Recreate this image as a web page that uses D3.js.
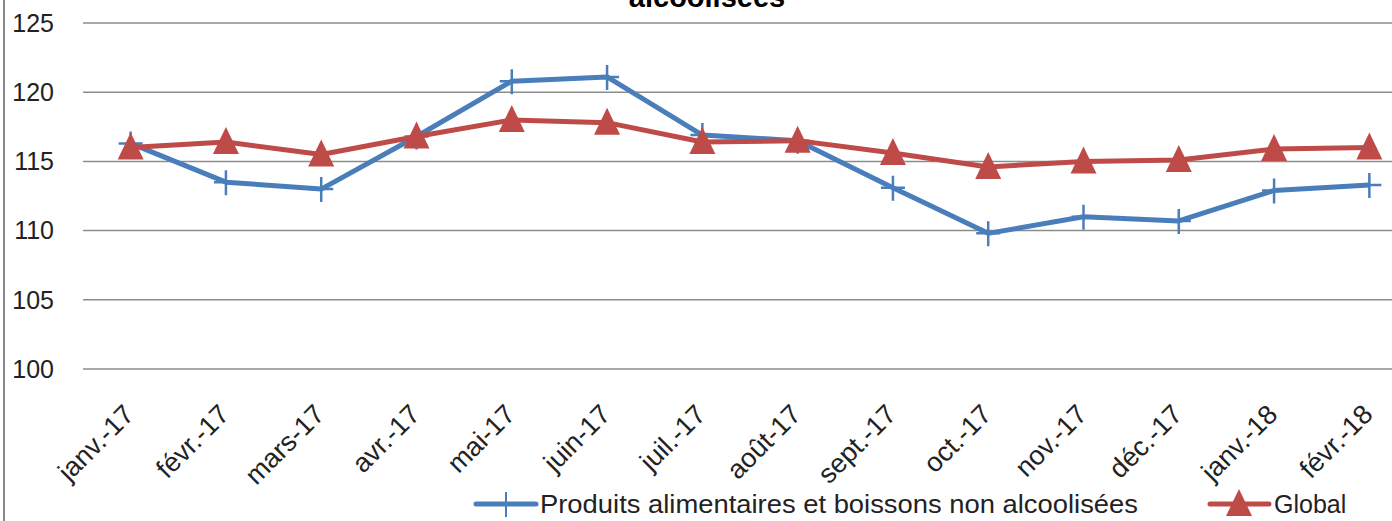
<!DOCTYPE html>
<html>
<head>
<meta charset="utf-8">
<script src="https://cdn.jsdelivr.net/npm/d3@7"></script>
<style>
  body { margin: 0; background: #fff; }
  svg { display: block; font-family: "Liberation Sans", Arial, sans-serif; }
</style>
</head>
<body>
<svg id="chart" width="1392" height="521"></svg>
<script>
var months = ["janv.-17", "févr.-17", "mars-17", "avr.-17", "mai-17", "juin-17", "juil.-17",
              "août-17", "sept.-17", "oct.-17", "nov.-17", "déc.-17", "janv.-18", "févr.-18"];
var alimentaire = [116.3, 113.5, 113.0, 116.8, 120.8, 121.1, 116.9, 116.5, 113.1, 109.8, 111.0, 110.7, 112.9, 113.3];
var global = [116.0, 116.4, 115.5, 116.8, 118.0, 117.8, 116.4, 116.5, 115.6, 114.6, 115.0, 115.1, 115.9, 116.0];
var yTicks = [100, 105, 110, 115, 120, 125];
var seriesNames = ["Produits alimentaires et boissons non alcoolisées", "Global"];

var svg = d3.select("#chart");
var blue = "#4a7ebb", red = "#be4b48";

var x = d3.scaleBand()
    .domain(months)
    .range([83, 1417]);

var y = d3.scaleLinear()
    .domain([100, 125])
    .range([369, 23]);

// chart area border on the left
svg.append("line")
    .attr("x1", 4).attr("x2", 4)
    .attr("y1", 0).attr("y2", 521)
    .attr("stroke", "#8a8a8a")
    .attr("stroke-width", 2);

// title (only the bottom of the last line shows)
svg.append("text")
    .attr("x", 707)
    .attr("y", 7)
    .attr("text-anchor", "middle")
    .attr("font-size", 29)
    .attr("font-weight", "bold")
    .attr("fill", "#000")
    .text("alcoolisées");

// gridlines
svg.append("g")
  .selectAll("line")
  .data(yTicks)
  .enter().append("line")
    .attr("x1", 83)
    .attr("x2", 1392)
    .attr("y1", function(d){ return y(d); })
    .attr("y2", function(d){ return y(d); })
    .attr("stroke", "#8c8c8c")
    .attr("stroke-width", 1.5);

// y labels
svg.append("g")
  .selectAll("text")
  .data(yTicks)
  .enter().append("text")
    .attr("x", 54)
    .attr("y", function(d){ return y(d); })
    .attr("dy", "0.35em")
    .attr("text-anchor", "end")
    .attr("font-size", 25)
    .attr("fill", "#222")
    .text(function(d){ return d; });

// x labels rotated
svg.append("g")
  .selectAll("text")
  .data(months)
  .enter().append("text")
    .attr("transform", function(d){
      return "translate(" + (x(d) + x.bandwidth() / 2 + 5) + ",416) rotate(-45)";
    })
    .attr("text-anchor", "end")
    .attr("font-size", 27)
    .attr("fill", "#222")
    .text(function(d){ return d; });

var cx = function(d, i){ return x(months[i]) + x.bandwidth() / 2; };

var line = d3.line()
    .x(cx)
    .y(function(d){ return y(d); });

function triangle(px, py){
  return "M" + px + "," + (py - 15) + "L" + (px + 13) + "," + (py + 12) + "L" + (px - 13) + "," + (py + 12) + "Z";
}
function cross(px, py){
  return "M" + (px - 12) + "," + py + "H" + (px + 12) + "M" + px + "," + (py - 12) + "V" + (py + 13);
}

// blue series
svg.append("path")
    .datum(alimentaire)
    .attr("d", line)
    .attr("fill", "none")
    .attr("stroke", blue)
    .attr("stroke-width", 5)
    .attr("stroke-linejoin", "round");
svg.append("g")
  .selectAll("path")
  .data(alimentaire)
  .enter().append("path")
    .attr("d", function(d, i){ return cross(cx(d, i), y(d)); })
    .attr("stroke", blue)
    .attr("stroke-width", 2.5)
    .attr("fill", "none");

// red series
svg.append("path")
    .datum(global)
    .attr("d", line)
    .attr("fill", "none")
    .attr("stroke", red)
    .attr("stroke-width", 5)
    .attr("stroke-linejoin", "round");
svg.append("g")
  .selectAll("path")
  .data(global)
  .enter().append("path")
    .attr("d", function(d, i){ return triangle(cx(d, i), y(d)); })
    .attr("fill", red);

// legend
var legend = svg.append("g");
legend.append("line")
    .attr("x1", 476).attr("x2", 536)
    .attr("y1", 504).attr("y2", 504)
    .attr("stroke", blue).attr("stroke-width", 5).attr("stroke-linecap", "round");
legend.append("path")
    .attr("d", cross(506, 504))
    .attr("stroke", blue).attr("stroke-width", 2);
legend.append("text")
    .attr("x", 540).attr("y", 513)
    .attr("font-size", 25).attr("fill", "#222")
    .attr("textLength", 598).attr("lengthAdjust", "spacingAndGlyphs")
    .text(seriesNames[0]);

legend.append("line")
    .attr("x1", 1210).attr("x2", 1269)
    .attr("y1", 504).attr("y2", 504)
    .attr("stroke", red).attr("stroke-width", 5).attr("stroke-linecap", "round");
legend.append("path")
    .attr("d", triangle(1239, 504))
    .attr("fill", red);
legend.append("text")
    .attr("x", 1274).attr("y", 513)
    .attr("font-size", 25).attr("fill", "#222")
    .text(seriesNames[1]);
</script>
</body>
</html>
